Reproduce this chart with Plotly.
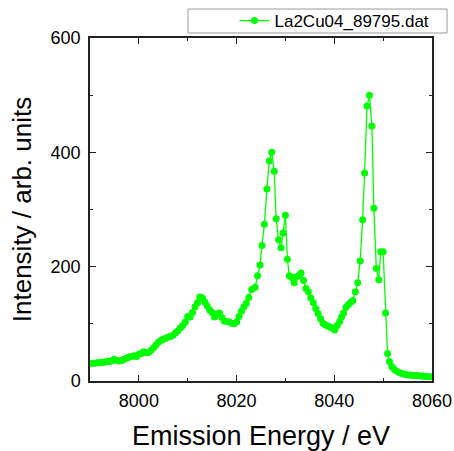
import plotly.graph_objects as go

energy = [
    7990.0, 7990.5, 7991.0, 7991.5, 7992.0, 7992.5, 7993.0, 7993.5, 7994.0, 7994.5,
    7995.0, 7995.5, 7996.0, 7996.5, 7997.0, 7997.5, 7998.0, 7998.5, 7999.0, 7999.5,
    8000.0, 8000.5, 8001.0, 8001.5, 8002.0, 8002.5, 8003.0, 8003.5, 8004.0, 8004.5,
    8005.0, 8005.5, 8006.0, 8006.5, 8007.0, 8007.5, 8008.0, 8008.5, 8009.0, 8009.5,
    8010.0, 8010.5, 8011.0, 8011.5, 8012.0, 8012.5, 8013.0, 8013.5, 8014.0, 8014.5,
    8015.0, 8015.5, 8016.0, 8016.5, 8017.0, 8017.5, 8018.0, 8018.5, 8019.0, 8019.5,
    8020.0, 8020.5, 8021.0, 8021.5, 8022.0, 8022.5,
    8023.1, 8023.8, 8024.3, 8024.8, 8025.2, 8025.7, 8026.2, 8026.7, 8027.2, 8027.7,
    8028.1, 8028.6, 8029.1, 8029.5, 8030.0, 8030.4, 8030.8, 8031.3, 8031.8, 8032.2,
    8032.7, 8033.2, 8033.7, 8034.2, 8034.7, 8035.2, 8035.7, 8036.2, 8036.7, 8037.2,
    8037.7, 8038.2, 8038.7, 8039.2, 8039.7, 8040.1, 8040.6, 8041.1, 8041.5, 8041.9,
    8042.4, 8042.9, 8043.4, 8043.8, 8044.3, 8044.8, 8045.3, 8045.8, 8046.2, 8046.7,
    8047.2, 8047.7, 8048.1, 8048.6, 8049.1, 8049.5, 8050.0, 8050.5, 8050.9, 8051.3,
    8051.8, 8052.3, 8052.8, 8053.3, 8053.8, 8054.3, 8054.8, 8055.3, 8055.8, 8056.3,
    8056.8, 8057.3, 8057.8, 8058.3, 8058.8, 8059.3, 8059.8,
]

intensity = [
    31, 31, 31, 32, 32, 33, 33, 34, 34, 36,
    38, 36, 35, 36, 38, 40, 42, 43, 44, 43,
    47, 48, 51, 50, 50, 54, 58, 63, 68, 71,
    73, 75, 77, 78, 80, 84, 88, 93, 97, 103,
    113, 112, 120, 130, 137, 147, 145, 138, 131, 124,
    120, 112, 117, 119, 111, 105, 104, 103, 101, 100,
    103, 113, 122, 130, 136, 146,
    160, 164, 184, 203, 237, 274, 336, 385, 400, 367,
    284, 247, 233, 259, 290, 213, 184, 181, 172, 182,
    184, 189, 176, 162, 156, 145, 137, 127, 118, 109,
    101, 98, 96, 94, 92, 89, 97, 104, 112, 119,
    129, 134, 138, 141, 156, 172, 210, 282, 364, 481,
    500, 446, 302, 197, 177, 226, 226, 119, 48, 34,
    25, 20, 17, 15, 13, 12, 11, 10.5, 10, 9.8,
    9.5, 9, 8.7, 8.5, 8, 7.6, 7.5,
]

series_name = "La2Cu04_89795.dat"
x_title = "Emission Energy / eV"
y_title = "Intensity / arb. units"
x_ticks = [8000, 8020, 8040, 8060]
y_ticks = [0, 200, 400, 600]

green = "#00ff00"
font_family = "Liberation Sans, Arial, sans-serif"

fig = go.Figure()
fig.add_trace(go.Scatter(
    x=energy, y=intensity, mode="lines+markers", name=series_name,
    line=dict(color=green, width=1.3),
    marker=dict(color=green, size=7),
))

axis_common = dict(
    showline=True, linecolor="#222222", linewidth=1.5, mirror="ticks",
    ticks="inside", ticklen=6, tickwidth=1.2, tickcolor="#222222",
    showgrid=False, zeroline=False, automargin=False,
    tickfont=dict(family=font_family, size=18, color="#000000"),
)

fig.update_xaxes(
    range=[7990, 8060], tickvals=x_ticks,
    ticktext=[str(v) for v in x_ticks],
    minor=dict(ticks="inside", ticklen=3, dtick=10, tick0=7990, tickcolor="#222222", tickwidth=1),
    title=dict(text=x_title, font=dict(family=font_family, size=27, color="#000000"), standoff=17),
    ticklabelstandoff=3,
    **axis_common,
)
fig.update_yaxes(
    range=[0, 600], tickvals=y_ticks,
    ticktext=[str(v) for v in y_ticks],
    minor=dict(ticks="inside", ticklen=3, dtick=100, tick0=0, tickcolor="#222222", tickwidth=1),
    title=dict(text=y_title, font=dict(family=font_family, size=26, color="#000000"), standoff=12),
    ticklabelstandoff=4,
    **axis_common,
)

fig.add_shape(
    type="rect", xref="paper", yref="paper",
    x0=0.2865, x1=1.044, y0=1.0146, y1=1.0845,
    line=dict(color="#9a9a9a", width=1), fillcolor="rgba(0,0,0,0)",
)

fig.update_layout(
    width=454, height=451,
    margin=dict(l=90, r=22, t=38, b=70, autoexpand=False),
    paper_bgcolor="white", plot_bgcolor="white",
    showlegend=True,
    legend=dict(
        x=0.4225, y=1.0496, xanchor="left", yanchor="middle",
        bgcolor="rgba(0,0,0,0)", borderwidth=0,
        font=dict(family=font_family, size=17, color="#000000"),
    ),
)

fig.write_html("out.html")
